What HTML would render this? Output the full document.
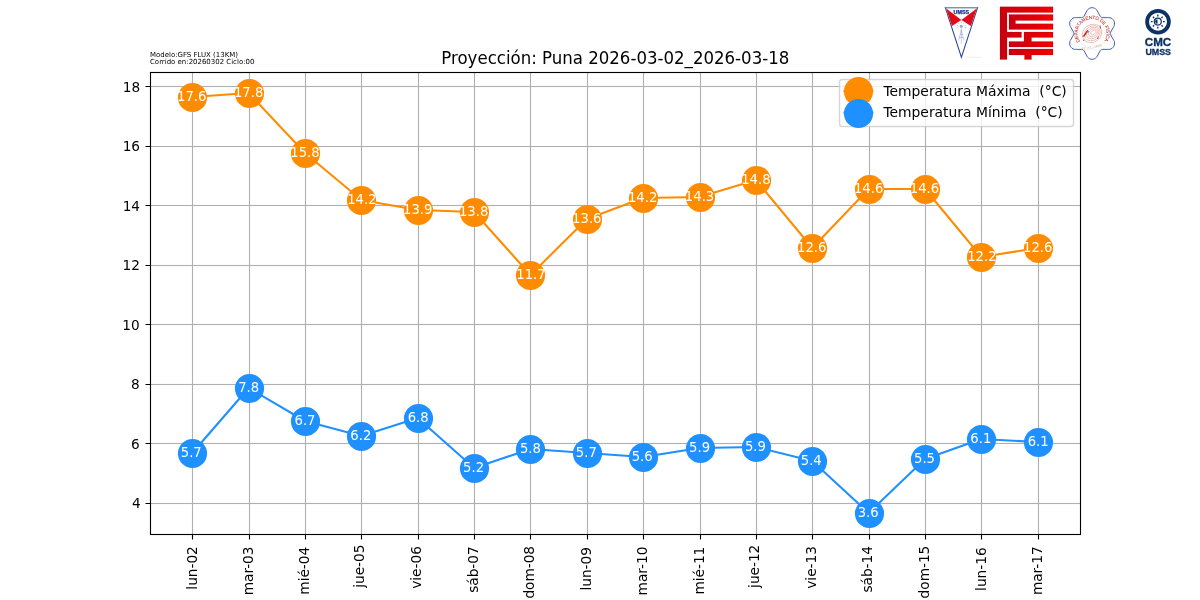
<!DOCTYPE html>
<html lang="es"><head><meta charset="utf-8"><title>Proyección: Puna</title>
<style>html,body{margin:0;padding:0;background:#fff}body{width:1200px;height:600px;overflow:hidden}svg{display:block}text{white-space:pre}</style></head>
<body>
<svg width="1200" height="600" viewBox="0 0 1200 600" font-family="DejaVu Sans, Liberation Sans, sans-serif">
<rect width="1200" height="600" fill="#fff"/>
<path d="M192.5 72.0V534.0M249.5 72.0V534.0M305.5 72.0V534.0M361.5 72.0V534.0M418.5 72.0V534.0M474.5 72.0V534.0M530.5 72.0V534.0M587.5 72.0V534.0M643.5 72.0V534.0M700.5 72.0V534.0M756.5 72.0V534.0M812.5 72.0V534.0M869.5 72.0V534.0M925.5 72.0V534.0M981.5 72.0V534.0M1038.5 72.0V534.0" stroke="#b0b0b0" stroke-width="1.111" fill="none"/>
<g fill="#b0b0b0"><rect x="150.0" y="502.944" width="930.0" height="1.111"/><rect x="150.0" y="442.944" width="930.0" height="1.111"/><rect x="150.0" y="383.944" width="930.0" height="1.111"/><rect x="150.0" y="323.944" width="930.0" height="1.111"/><rect x="150.0" y="264.944" width="930.0" height="1.111"/><rect x="150.0" y="204.944" width="930.0" height="1.111"/><rect x="150.0" y="145.944" width="930.0" height="1.111"/><rect x="150.0" y="85.944" width="930.0" height="1.111"/></g>
<path d="M192.5 534.5V539.50M249.5 534.5V539.50M305.5 534.5V539.50M361.5 534.5V539.50M418.5 534.5V539.50M474.5 534.5V539.50M530.5 534.5V539.50M587.5 534.5V539.50M643.5 534.5V539.50M700.5 534.5V539.50M756.5 534.5V539.50M812.5 534.5V539.50M869.5 534.5V539.50M925.5 534.5V539.50M981.5 534.5V539.50M1038.5 534.5V539.50M150.5 503.5H145.50M150.5 443.5H145.50M150.5 384.5H145.50M150.5 324.5H145.50M150.5 265.5H145.50M150.5 205.5H145.50M150.5 146.5H145.50M150.5 86.5H145.50" stroke="#000" stroke-width="1.111" fill="none"/>
<polyline points="192.27,97.00 248.64,93.00 305.00,153.00 361.36,200.00 417.73,210.00 474.09,212.00 530.45,275.00 586.82,219.00 643.18,198.00 699.55,197.00 755.91,180.00 812.27,248.00 868.64,189.00 925.00,189.00 981.36,257.00 1037.73,248.00" fill="none" stroke="#ff8c00" stroke-width="2.083" stroke-linejoin="round"/>
<g fill="#ff8c00"><circle cx="192.5" cy="97.5" r="14.58"/><circle cx="249.5" cy="93.5" r="14.58"/><circle cx="305.5" cy="153.5" r="14.58"/><circle cx="361.5" cy="200.5" r="14.58"/><circle cx="418.5" cy="210.5" r="14.58"/><circle cx="474.5" cy="212.5" r="14.58"/><circle cx="530.5" cy="275.5" r="14.58"/><circle cx="587.5" cy="219.5" r="14.58"/><circle cx="643.5" cy="198.5" r="14.58"/><circle cx="700.5" cy="197.5" r="14.58"/><circle cx="756.5" cy="180.5" r="14.58"/><circle cx="812.5" cy="248.5" r="14.58"/><circle cx="869.5" cy="189.5" r="14.58"/><circle cx="925.5" cy="189.5" r="14.58"/><circle cx="981.5" cy="257.5" r="14.58"/><circle cx="1038.5" cy="248.5" r="14.58"/></g>
<polyline points="192.27,453.00 248.64,388.00 305.00,421.00 361.36,436.00 417.73,418.00 474.09,468.00 530.45,449.00 586.82,453.00 643.18,457.00 699.55,448.00 755.91,447.00 812.27,461.00 868.64,513.00 925.00,459.00 981.36,439.00 1037.73,442.00" fill="none" stroke="#1e90ff" stroke-width="2.083" stroke-linejoin="round"/>
<g fill="#1e90ff"><circle cx="192.5" cy="453.5" r="14.58"/><circle cx="249.5" cy="388.5" r="14.58"/><circle cx="305.5" cy="421.5" r="14.58"/><circle cx="361.5" cy="436.5" r="14.58"/><circle cx="418.5" cy="418.5" r="14.58"/><circle cx="474.5" cy="468.5" r="14.58"/><circle cx="530.5" cy="449.5" r="14.58"/><circle cx="587.5" cy="453.5" r="14.58"/><circle cx="643.5" cy="457.5" r="14.58"/><circle cx="700.5" cy="448.5" r="14.58"/><circle cx="756.5" cy="447.5" r="14.58"/><circle cx="812.5" cy="461.5" r="14.58"/><circle cx="869.5" cy="513.5" r="14.58"/><circle cx="925.5" cy="459.5" r="14.58"/><circle cx="981.5" cy="439.5" r="14.58"/><circle cx="1038.5" cy="442.5" r="14.58"/></g>
<rect x="150.5" y="72.5" width="930.0" height="462.0" fill="none" stroke="#000" stroke-width="1.111"/>
<g font-size="13.681" fill="#000">
<text transform="translate(196.55 546.21) rotate(-90) scale(1 1.090)" text-anchor="end">lun-02</text>
<text transform="translate(252.63 546.50) rotate(-90) scale(1 1.090)" text-anchor="end">mar-03</text>
<text transform="translate(308.51 546.84) rotate(-90) scale(1 1.090)" text-anchor="end">mié-04</text>
<text transform="translate(363.93 544.56) rotate(-90) scale(1 1.090)" text-anchor="end">jue-05</text>
<text transform="translate(420.75 546.15) rotate(-90) scale(1 1.090)" text-anchor="end">vie-06</text>
<text transform="translate(477.60 546.34) rotate(-90) scale(1 1.090)" text-anchor="end">sáb-07</text>
<text transform="translate(533.90 545.93) rotate(-90) scale(1 1.090)" text-anchor="end">dom-08</text>
<text transform="translate(590.61 547.06) rotate(-90) scale(1 1.090)" text-anchor="end">lun-09</text>
<text transform="translate(646.56 546.61) rotate(-90) scale(1 1.090)" text-anchor="end">mar-10</text>
<text transform="translate(703.56 546.70) rotate(-90) scale(1 1.090)" text-anchor="end">mié-11</text>
<text transform="translate(758.94 544.69) rotate(-90) scale(1 1.090)" text-anchor="end">jue-12</text>
<text transform="translate(815.84 546.12) rotate(-90) scale(1 1.090)" text-anchor="end">vie-13</text>
<text transform="translate(871.99 546.06) rotate(-90) scale(1 1.090)" text-anchor="end">sáb-14</text>
<text transform="translate(928.96 545.69) rotate(-90) scale(1 1.090)" text-anchor="end">dom-15</text>
<text transform="translate(985.70 547.42) rotate(-90) scale(1 1.090)" text-anchor="end">lun-16</text>
<text transform="translate(1041.75 546.32) rotate(-90) scale(1 1.090)" text-anchor="end">mar-17</text>
</g><g font-size="13.681" fill="#000">
<text transform="translate(140.82 507.50) scale(1 1.090)" text-anchor="end">4</text>
<text transform="translate(139.69 448.50) scale(1 1.090)" text-anchor="end">6</text>
<text transform="translate(139.78 388.50) scale(1 1.090)" text-anchor="end">8</text>
<text transform="translate(139.64 329.50) scale(1 1.090)" text-anchor="end">10</text>
<text transform="translate(139.94 269.50) scale(1 1.090)" text-anchor="end">12</text>
<text transform="translate(140.04 210.50) scale(1 1.090)" text-anchor="end">14</text>
<text transform="translate(140.05 150.50) scale(1 1.090)" text-anchor="end">16</text>
<text transform="translate(140.18 91.50) scale(1 1.090)" text-anchor="end">18</text>
</g>
<g font-size="13.208" fill="#fff" text-anchor="middle">
<text transform="translate(191.77 100.83) scale(1 1.060)">17.6</text>
<text transform="translate(191.27 456.83) scale(1 1.060)">5.7</text>
<text transform="translate(248.64 96.83) scale(1 1.060)">17.8</text>
<text transform="translate(248.64 391.83) scale(1 1.060)">7.8</text>
<text transform="translate(305.00 156.83) scale(1 1.060)">15.8</text>
<text transform="translate(305.00 424.83) scale(1 1.060)">6.7</text>
<text transform="translate(361.86 203.83) scale(1 1.060)">14.2</text>
<text transform="translate(360.86 439.83) scale(1 1.060)">6.2</text>
<text transform="translate(417.73 213.83) scale(1 1.060)">13.9</text>
<text transform="translate(418.23 421.83) scale(1 1.060)">6.8</text>
<text transform="translate(473.59 215.83) scale(1 1.060)">13.8</text>
<text transform="translate(473.59 471.83) scale(1 1.060)">5.2</text>
<text transform="translate(530.95 278.83) scale(1 1.060)">11.7</text>
<text transform="translate(530.45 452.83) scale(1 1.060)">5.8</text>
<text transform="translate(586.82 222.83) scale(1 1.060)">13.6</text>
<text transform="translate(586.32 456.83) scale(1 1.060)">5.7</text>
<text transform="translate(642.68 201.83) scale(1 1.060)">14.2</text>
<text transform="translate(642.18 460.83) scale(1 1.060)">5.6</text>
<text transform="translate(699.55 200.83) scale(1 1.060)">14.3</text>
<text transform="translate(699.55 451.83) scale(1 1.060)">5.9</text>
<text transform="translate(755.91 183.83) scale(1 1.060)">14.8</text>
<text transform="translate(755.41 450.83) scale(1 1.060)">5.9</text>
<text transform="translate(811.77 251.83) scale(1 1.060)">12.6</text>
<text transform="translate(811.27 464.83) scale(1 1.060)">5.4</text>
<text transform="translate(868.64 192.83) scale(1 1.060)">14.6</text>
<text transform="translate(868.14 516.83) scale(1 1.060)">3.6</text>
<text transform="translate(924.50 192.83) scale(1 1.060)">14.6</text>
<text transform="translate(924.50 462.83) scale(1 1.060)">5.5</text>
<text transform="translate(981.86 260.83) scale(1 1.060)">12.2</text>
<text transform="translate(980.86 442.83) scale(1 1.060)">6.1</text>
<text transform="translate(1037.73 251.83) scale(1 1.060)">12.6</text>
<text transform="translate(1038.23 445.83) scale(1 1.060)">6.1</text>
</g>
<g font-size="6.979" fill="#000"><text transform="translate(150.00 57.00)">Modelo:GFS FLUX (13KM)</text><text transform="translate(150.00 64.00)">Corrido en:20260302 Ciclo:00</text></g>
<g font-size="16.600" fill="#000"><text transform="translate(615.30 63.67) scale(1 1.060)" text-anchor="middle">Proyección: Puna 2026-03-02_2026-03-18</text></g>
<rect x="839.5" y="79.5" width="234.0" height="47.0" rx="2.78" fill="#fff" fill-opacity="0.8" stroke="#ccc" stroke-opacity="0.8" stroke-width="1.389"/>
<g font-size="13.889" fill="#000">
<path d="M844.49 91.14H872.26" stroke="#ff8c00" stroke-width="2.083" stroke-linecap="square"/>
<circle cx="858.5" cy="91.5" r="14.58" fill="#ff8c00"/>
<text transform="translate(883.38 96.00) scale(1 1.060)" xml:space="preserve">Temperatura Máxima  (°C)</text>
<path d="M844.49 112.58H872.26" stroke="#1e90ff" stroke-width="2.083" stroke-linecap="square"/>
<circle cx="858.5" cy="113.5" r="14.58" fill="#1e90ff"/>
<text transform="translate(883.38 117.44) scale(1 1.060)" xml:space="preserve">Temperatura Mínima  (°C)</text>
</g>
<defs>
<linearGradient id="fg" x1="0" y1="0" x2="1" y2="0"><stop offset="0" stop-color="#c8000f"/><stop offset="1" stop-color="#f20000"/></linearGradient>
<path id="arc" d="M1080.0 41.3A14.4 14.4 0 1 1 1104.4 40.9"/>
</defs>
<g id="logo-umss">
<path d="M945.3 7.6H977.6L961.4 57.2Z" fill="#fff" stroke="#2b479b" stroke-width="1.05" stroke-linejoin="miter"/>
<path d="M946.2 8.5L961.4 19.9L951.9 25.9Z M976.7 8.5L961.4 19.9L970.9 25.9Z" fill="#e30a17"/>
<path d="M945.3 7.6H977.6" stroke="#8fa3d6" stroke-width="0.9"/>
<text x="961.4" y="14" font-family="Liberation Sans, sans-serif" font-weight="bold" font-size="5.2" text-anchor="middle" fill="#14308c" stroke="#14308c" stroke-width="0.25" textLength="15.6" lengthAdjust="spacingAndGlyphs">UMSS</text>
<g stroke="#3f5aa8" stroke-width="0.4" fill="none" opacity="0.75">
<path d="M961.3 26.5V43.5M961.3 30L958.6 40.5M961.3 30L964 40.5M960.2 34.5H962.4M959.6 37.5H963"/>
<circle cx="961.3" cy="26.3" r="1.5" fill="#6f86c4" stroke="none"/>
<path d="M961.3 22.2v1.2M958.7 23.2l.7 1M963.9 23.2l-.7 1M957 25.3l1.1.6M965.6 25.3l-1.1.6M956.6 27.6h1.2M966 27.6h-1.2" stroke-width="0.5"/>
</g>
<path d="M966 57.4H982" stroke="#e4e4e4" stroke-width="0.6"/>
</g>
<g id="logo-fcyt" fill="url(#fg)" stroke="#a2000d" stroke-opacity="0.55" stroke-width="0.35">
<path d="M1000 6.8H1053V12.5H1007V32H1021.5V37.5H1007V59.5H1000Z"/>
<path d="M1009 14.5H1053V20.5H1015.5V23.8H1053V29.5H1009Z"/>
<path d="M1024 32H1053V37.5H1031.5V41.5H1053V47H1009V41.5H1024Z"/>
<path d="M1009 49H1053V55H1031.5V59.5H1024.5V55H1009Z"/>
</g>
<g id="logo-fis">
<path id="star" d="M1087.0 10.7L1087.7 9.7L1088.7 8.8L1089.7 8.2L1090.9 7.8L1092.1 7.7L1093.3 7.8L1094.5 8.2L1095.5 8.8L1096.5 9.7L1097.2 10.7L1100.1 16.1L1100.5 16.6L1100.9 17.1L1101.5 17.4L1102.1 17.6L1102.7 17.6L1108.7 17.6L1109.9 17.7L1111.1 18.1L1112.2 18.7L1113.1 19.6L1113.8 20.6L1114.3 21.7L1114.5 23.0L1114.5 24.2L1114.3 25.5L1113.8 26.6L1110.7 32.0L1110.5 32.6L1110.3 33.2L1110.3 33.8L1110.5 34.4L1110.7 35.0L1113.8 40.4L1114.3 41.5L1114.5 42.8L1114.5 44.0L1114.3 45.3L1113.8 46.4L1113.1 47.4L1112.2 48.3L1111.1 48.9L1109.9 49.3L1108.7 49.4L1102.7 49.4L1102.1 49.4L1101.5 49.6L1100.9 49.9L1100.5 50.4L1100.1 50.9L1097.2 56.3L1096.5 57.3L1095.5 58.2L1094.5 58.8L1093.3 59.2L1092.1 59.3L1090.9 59.2L1089.7 58.8L1088.7 58.2L1087.7 57.3L1087.0 56.3L1084.1 50.9L1083.7 50.4L1083.3 49.9L1082.7 49.6L1082.1 49.4L1081.5 49.4L1075.5 49.4L1074.3 49.3L1073.1 48.9L1072.0 48.3L1071.1 47.4L1070.4 46.4L1069.9 45.3L1069.7 44.0L1069.7 42.8L1069.9 41.5L1070.4 40.4L1073.5 35.0L1073.7 34.4L1073.9 33.8L1073.9 33.2L1073.7 32.6L1073.5 32.0L1070.4 26.6L1069.9 25.5L1069.7 24.2L1069.7 23.0L1069.9 21.7L1070.4 20.6L1071.1 19.6L1072.0 18.7L1073.1 18.1L1074.3 17.7L1075.5 17.6L1081.5 17.6L1082.1 17.6L1082.7 17.4L1083.3 17.1L1083.7 16.6L1084.1 16.1Z" fill="none" stroke="#34479c" stroke-width="0.9"/>
<g fill="none" stroke="#b9c3e6" stroke-width="0.4" stroke-dasharray="0.8 0.8">
<ellipse cx="1092" cy="33.5" rx="23.5" ry="14" transform="rotate(-30 1092 33.5)"/>
<ellipse cx="1092" cy="33.5" rx="23.5" ry="14" transform="rotate(30 1092 33.5)"/>
</g>
<text font-family="Liberation Sans, sans-serif" font-size="4.7" fill="#c23a2e" stroke="#c23a2e" stroke-width="0.08"><textPath href="#arc" startOffset="0" textLength="60.8" lengthAdjust="spacingAndGlyphs">DEPARTAMENTO DE FÍSICA</textPath></text>
<g fill="none" stroke="#d66f62" stroke-width="0.4" transform="rotate(-35 1092 33.5)">
<ellipse cx="1092" cy="33.5" rx="10.2" ry="8.8"/>
<ellipse cx="1092.4" cy="33.5" rx="8.4" ry="7"/>
<ellipse cx="1092.8" cy="33.5" rx="6.6" ry="5.2"/>
<ellipse cx="1093.2" cy="33.5" rx="4.8" ry="3.5"/>
<ellipse cx="1093.6" cy="33.5" rx="3" ry="1.9"/>
</g>
<path d="M1082.3 36.8L1087.3 29.8L1088.3 31L1084.6 36.4Z" fill="#c4362c"/>
<circle cx="1088" cy="31.7" r="0.9" fill="#5b78c7"/>
<path d="M1100 25.5l.5 3M1098.3 36.5l-.8 2.5M1084 39.5l-.5 1.5" stroke="#c4362c" stroke-width="0.9" fill="none"/>
<text x="1092" y="48" font-family="Liberation Sans, sans-serif" font-style="italic" font-size="2.8" fill="#d98a80" text-anchor="middle" transform="rotate(-10 1092 47)">F.C. y T. - UMSS</text>
</g>
<g id="logo-cmc" fill="#0c3266">
<circle cx="1158" cy="21.7" r="10.9" fill="none" stroke="#0c3266" stroke-width="3.8"/>
<circle cx="1157.8" cy="21.6" r="3.5" fill="none" stroke="#0c3266" stroke-width="1.2"/>
<path d="M1157.5 19.2A2.4 2.4 0 0 0 1157.5 24Z"/>
<g stroke="#0c3266" stroke-width="1.35" stroke-linecap="butt">
<path d="M1157.8 14.6v1.8M1157.8 26.8v1.8M1150.8 21.6h1.8M1163 21.6h1.8M1152.85 16.65l1.27 1.27M1161.48 25.28l1.27 1.27M1162.75 16.65l-1.27 1.27M1154.12 25.28l-1.27 1.27"/>
</g>
<text x="1158" y="46.2" font-family="Liberation Sans, sans-serif" font-weight="bold" font-size="10" text-anchor="middle" textLength="26.4" lengthAdjust="spacingAndGlyphs" stroke="#0c3266" stroke-width="0.3">CMC</text>
<text x="1158.2" y="54.6" font-family="Liberation Sans, sans-serif" font-weight="bold" font-size="9.2" text-anchor="middle" textLength="25.6" lengthAdjust="spacingAndGlyphs" stroke="#0c3266" stroke-width="0.3">UMSS</text>
</g>

</svg>
</body></html>
